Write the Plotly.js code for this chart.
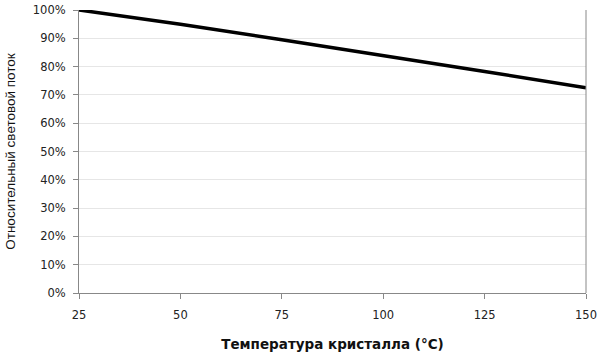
<!DOCTYPE html>
<html><head><meta charset="utf-8">
<script src="https://cdn.plot.ly/plotly-3.0.1.min.js"></script>
<style>html,body{margin:0;padding:0;background:#fff}</style>
</head><body><div id="chart" style="width:600px;height:352px"></div>
<script>
var temps = [25, 50, 75, 100, 125, 150];
var flux = [1.00, 0.95, 0.895, 0.84, 0.783, 0.725];
var xTicks = [25, 50, 75, 100, 125, 150];
var yTicks = [0, 0.1, 0.2, 0.3, 0.4, 0.5, 0.6, 0.7, 0.8, 0.9, 1.0];

Plotly.newPlot('chart', [{
  x: temps, y: flux, type: 'scatter', mode: 'lines',
  line: {color: '#000', width: 3.5}, hoverinfo: 'none'
}], {
  width: 600, height: 352,
  margin: {l: 79, r: 14, t: 10, b: 59},
  paper_bgcolor: '#fff', plot_bgcolor: '#fff',
  showlegend: false,
  font: {family: 'DejaVu Sans, Verdana, sans-serif', size: 11.5, color: '#222'},
  xaxis: {
    range: [25, 150], tickvals: xTicks, ticks: 'outside', ticklen: 5, tickcolor: '#888',
    ticklabelstandoff: 6,
    showgrid: false, zeroline: false, showline: true, linecolor: '#888', linewidth: 1,
    mirror: false, tickfont: {size: 11.5},
    title: {text: 'Температура кристалла (°C)', font: {size: 13.5, family: 'DejaVu Sans, Verdana, sans-serif', weight: 'bold', color: '#111'}, standoff: 18}
  },
  yaxis: {
    range: [0, 1], tickvals: yTicks, tickformat: '.0%', ticks: 'outside', ticklen: 5, tickcolor: '#888',
    ticklabelstandoff: 5,
    showgrid: true, gridcolor: '#e6e6e6', zeroline: false, showline: true, linecolor: '#888', linewidth: 1,
    tickfont: {size: 11.5},
    title: {text: 'Относительный световой поток', font: {size: 13.5, family: 'Liberation Sans, Arial, sans-serif', color: '#111'}, standoff: 14}
  },
  shapes: [{type: 'line', xref: 'paper', yref: 'paper', x0: 1, x1: 1, y0: 0, y1: 1, line: {color: '#888', width: 1}}]
}, {staticPlot: true});
</script></body></html>
